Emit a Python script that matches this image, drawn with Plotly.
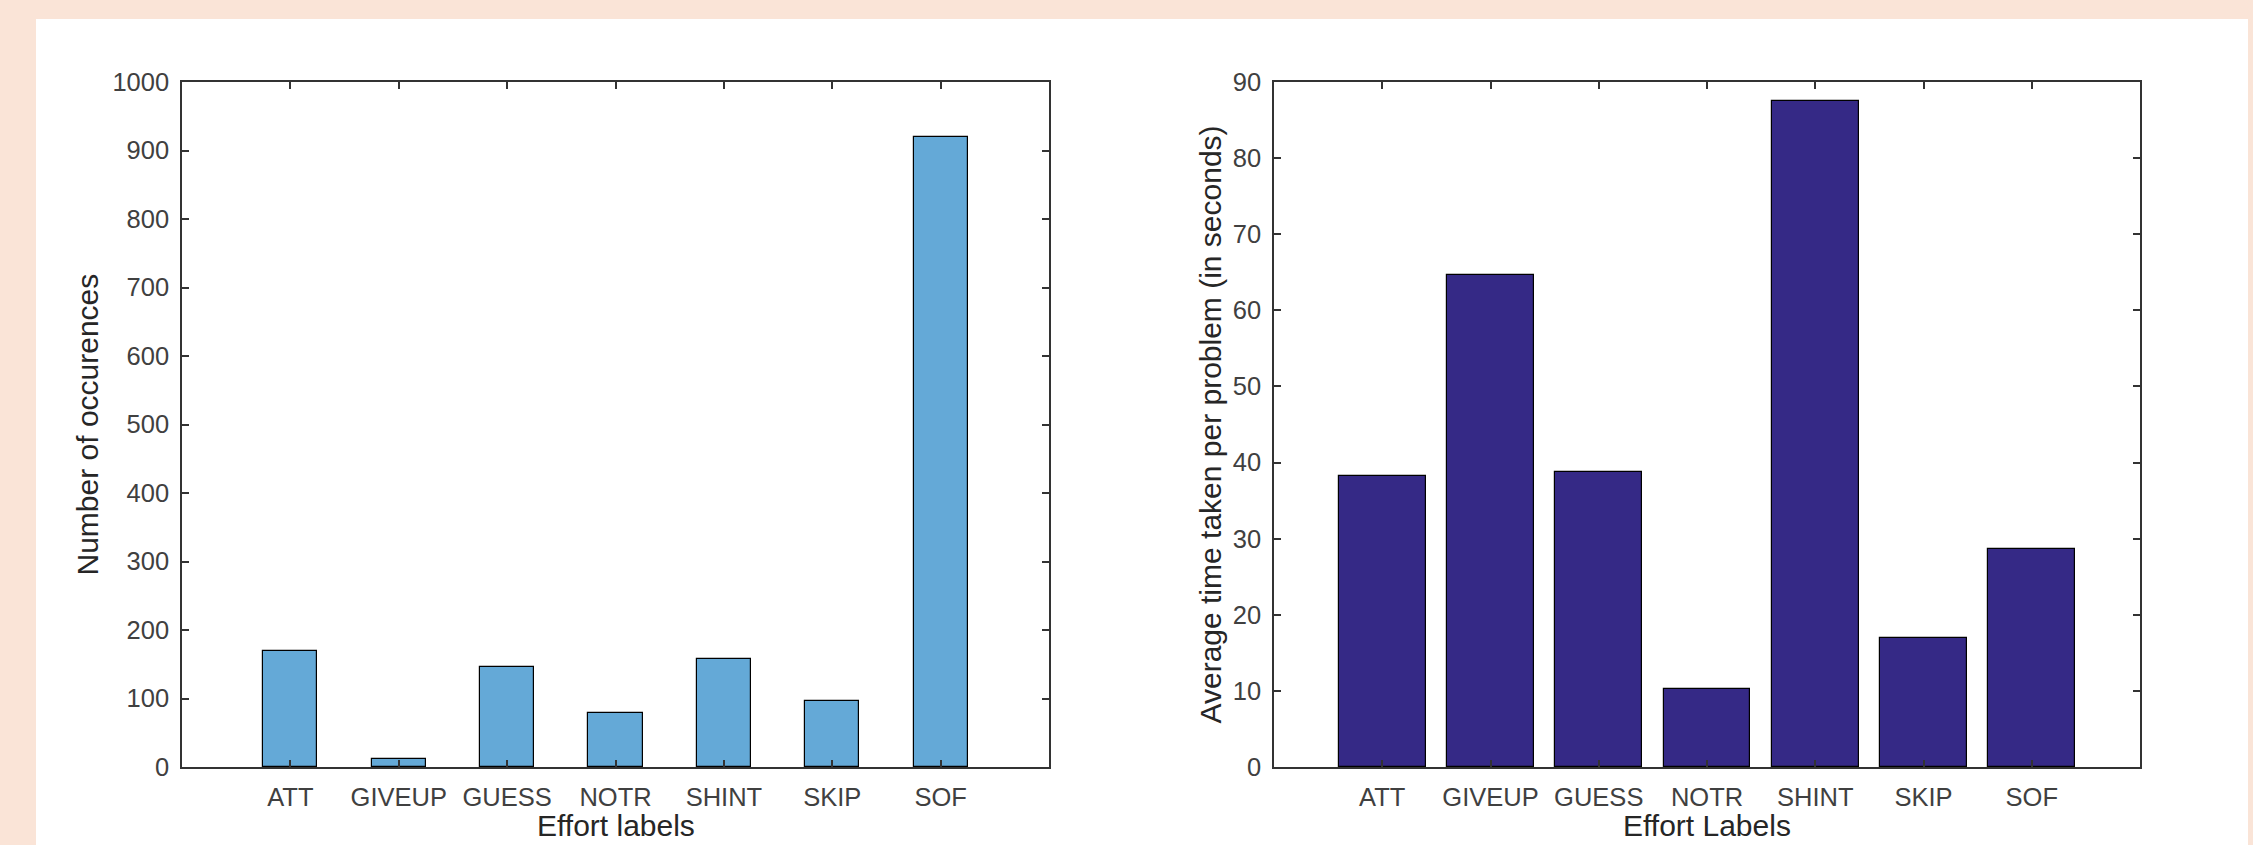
import plotly.graph_objects as go

categories = ["ATT", "GIVEUP", "GUESS", "NOTR", "SHINT", "SKIP", "SOF"]
occurrences = [170, 11, 146, 79, 158, 96, 920]
avg_time = [38.2, 64.6, 38.7, 10.3, 87.5, 16.9, 28.7]
left_yticks = list(range(0, 1001, 100))
right_yticks = list(range(0, 91, 10))

W, H = 2253, 845
PEACH = "#FAE4D7"
AXC = "#333333"
TICKC = "#404040"
FONT = "Liberation Sans, Arial, Helvetica, sans-serif"

fig = go.Figure()
fig.add_trace(go.Bar(x=categories, y=occurrences, width=0.5,
                     marker=dict(color="rgb(100,169,215)", line=dict(color="black", width=1.2)),
                     xaxis="x", yaxis="y", showlegend=False))
fig.add_trace(go.Bar(x=categories, y=avg_time, width=0.8,
                     marker=dict(color="rgb(53,41,134)", line=dict(color="black", width=1.2)),
                     xaxis="x2", yaxis="y2", showlegend=False))

def px_x(v):
    return v / W

def px_y(v):
    return (H - v) / H

ydom = [px_y(767), px_y(82)]
common_x = dict(type="category", range=[-1, 7], showline=True, mirror="ticks", linecolor=AXC,
                linewidth=1.5, ticks="inside", ticklen=7, tickcolor=AXC, tickwidth=1.5,
                showgrid=False, zeroline=False, tickfont=dict(size=25.5, color=TICKC, family=FONT),
                ticklabelstandoff=7, automargin=False, fixedrange=True)
common_y = dict(showline=True, mirror="ticks", linecolor=AXC, linewidth=1.5, ticks="inside",
                ticklen=7, tickcolor=AXC, tickwidth=1.5, showgrid=False, zeroline=False,
                tickfont=dict(size=25.5, color=TICKC, family=FONT), ticklabelstandoff=6,
                automargin=False, domain=ydom)

fig.update_layout(
    template="none",
    width=W, height=H, autosize=False,
    margin=dict(l=0, r=0, t=0, b=0, pad=0),
    paper_bgcolor=PEACH, plot_bgcolor="white",
    bargap=0,
    xaxis=dict(domain=[px_x(182), px_x(1049)], anchor="y", **common_x),
    yaxis=dict(range=[0, 1000], tickvals=left_yticks, anchor="x", **common_y),
    xaxis2=dict(domain=[px_x(1274), px_x(2140)], anchor="y2", **common_x),
    yaxis2=dict(range=[0, 90], tickvals=right_yticks, anchor="x2", **common_y),
    shapes=[dict(type="rect", xref="paper", yref="paper", x0=px_x(36), x1=px_x(2248),
                 y0=px_y(845), y1=px_y(19), fillcolor="white", line=dict(width=0), layer="below")],
    annotations=[
        dict(text="Number of occurences", xref="paper", yref="paper", x=px_x(87),
             y=(ydom[0] + ydom[1]) / 2, textangle=-90, showarrow=False,
             xanchor="center", yanchor="middle", font=dict(size=30, color="#262626", family=FONT)),
        dict(text="Average time taken per problem (in seconds)", xref="paper", yref="paper",
             x=px_x(1210), y=(ydom[0] + ydom[1]) / 2, textangle=-90, showarrow=False,
             xanchor="center", yanchor="middle", font=dict(size=30, color="#262626", family=FONT)),
        dict(text="Effort labels", xref="paper", yref="paper", x=px_x(615.5), y=0.002,
             showarrow=False, xanchor="center", yanchor="bottom", borderpad=0,
             font=dict(size=30, color="#262626", family=FONT)),
        dict(text="Effort Labels", xref="paper", yref="paper", x=px_x(1707), y=0.002,
             showarrow=False, xanchor="center", yanchor="bottom", borderpad=0,
             font=dict(size=30, color="#262626", family=FONT)),
    ],
)

fig.write_html(
    "out.html",
    config={"displayModeBar": False},
    post_script="document.body.style.margin='0';document.body.style.backgroundColor='" + PEACH + "';",
)
